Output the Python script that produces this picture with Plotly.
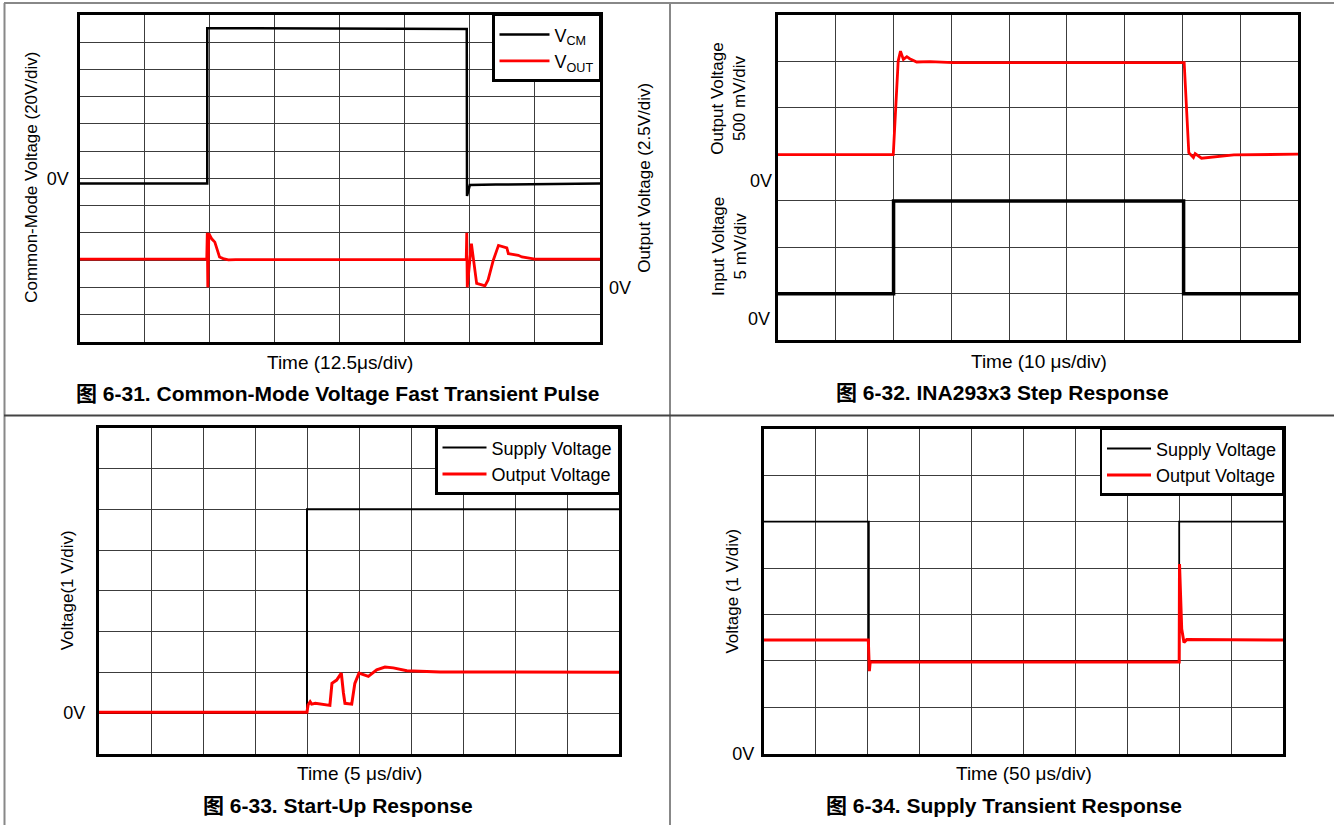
import plotly.graph_objects as go

W, H = 1334, 835

# ---------------- data ----------------
# Panel 1 : Common-mode voltage fast transient pulse (time in us)
p1_t_vcm = [0, 24.55, 24.55, 74.4, 74.45, 75.0, 80.0, 100.0]
p1_vcm = [-3.8, -3.8, 110.2, 109.6, -13.0, -4.9, -4.6, -3.8]          # V (20 V/div)
p1_t_vout = [0, 24.45, 24.55, 24.65, 24.85, 25.4, 26.0, 26.9, 27.6, 28.6, 30.0,
             74.3, 74.4, 74.5, 75.3, 76.3, 77.3, 77.9, 78.5, 79.5, 80.5, 81.4,
             82.1, 82.4, 84.3, 85.0, 86.6, 87.5, 100.0]
p1_vout = [2.58, 2.58, 5.0, 0.0, 4.95, 4.45, 4.15, 2.79, 2.64, 2.52, 2.55,
           2.55, 5.0, 0.0, 4.0, 0.37, 0.23, 0.14, 0.68, 2.49, 3.85, 3.76,
           3.63, 3.09, 2.94, 2.79, 2.70, 2.58, 2.58]                    # V (2.5 V/div)

# Panel 2 : INA293x3 step response
p2_t_out = [0, 19.95, 20.8, 21.2, 21.7, 22.3, 22.8, 24.0, 26.3, 30.3, 70.3,
            71.1, 71.9, 72.2, 73.3, 75.9, 78.9, 90.0]
p2_out = [0.28, 0.28, 1.287, 1.394, 1.305, 1.334, 1.313, 1.277, 1.281, 1.27,
          1.27, 0.30, 0.249, 0.291, 0.241, 0.26, 0.277, 0.284]          # V (500 mV/div)
p2_t_in = [0, 20.0, 20.0, 70.2, 70.2, 90.0]
p2_in = [2.7, 2.7, 12.7, 12.7, 2.7, 2.7]                               # mV (5 mV/div)

# Panel 3 : Start-up response
p3_t_sup = [0, 20.0, 20.0, 50.0]
p3_sup = [0.0, 0.0, 5.0, 5.0]
p3_t_out = [0, 20.0, 20.1, 20.3, 20.45, 20.8, 22.2, 22.4, 22.85, 23.3, 23.5,
            23.65, 24.3, 24.6, 25.0, 25.4, 25.9, 26.7, 27.5, 28.3, 29.6, 32.8, 50.0]
p3_out = [0.02, 0.02, 0.2, 0.28, 0.22, 0.24, 0.19, 0.73, 0.81, 0.98, 0.5,
          0.24, 0.22, 0.73, 0.98, 0.95, 0.9, 1.06, 1.13, 1.11, 1.04, 1.01, 1.0]

# Panel 4 : Supply transient response
p4_t_sup = [0, 101.0, 101.0, 400.0, 400.0, 500.0]
p4_sup = [5.0, 5.0, 2.0, 2.0, 5.0, 5.0]
p4_t_out = [0, 100.5, 101.5, 102.3, 400.0, 400.3, 402.4, 404.6, 407.2, 500.0]
p4_out = [2.45, 2.45, 1.78, 1.98, 1.98, 4.09, 2.69, 2.40, 2.46, 2.45]

# ---------------- layout helpers ----------------
def px(x):
    return x / W

def py(y):
    return 1 - y / H

FONT = "Liberation Sans, Arial, Noto Sans CJK SC, sans-serif"
GRID = "#3c3c3c"
RED = "#ff0000"

fig = go.Figure()

# Panel 1 traces
fig.add_trace(go.Scatter(x=p1_t_vcm, y=p1_vcm, mode="lines", name="V<sub>CM</sub>",
                         line=dict(color="black", width=2.5), xaxis="x", yaxis="y",
                         legend="legend"))
fig.add_trace(go.Scatter(x=p1_t_vout, y=p1_vout, mode="lines", name="V<sub>OUT</sub>",
                         line=dict(color=RED, width=2.8), xaxis="x", yaxis="y2",
                         legend="legend"))
# Panel 2 traces
fig.add_trace(go.Scatter(x=p2_t_in, y=p2_in, mode="lines", name="Input",
                         line=dict(color="black", width=3.5), xaxis="x2", yaxis="y3",
                         showlegend=False))
fig.add_trace(go.Scatter(x=p2_t_out, y=p2_out, mode="lines", name="Output",
                         line=dict(color=RED, width=2.8), xaxis="x2", yaxis="y4",
                         showlegend=False))
# Panel 3 traces
fig.add_trace(go.Scatter(x=p3_t_sup, y=p3_sup, mode="lines", name="Supply Voltage",
                         line=dict(color="black", width=2), xaxis="x3", yaxis="y5",
                         legend="legend2"))
fig.add_trace(go.Scatter(x=p3_t_out, y=p3_out, mode="lines", name="Output Voltage",
                         line=dict(color=RED, width=3), xaxis="x3", yaxis="y5",
                         legend="legend2"))
# Panel 4 traces
fig.add_trace(go.Scatter(x=p4_t_sup, y=p4_sup, mode="lines", name="Supply Voltage",
                         line=dict(color="black", width=1.8), xaxis="x4", yaxis="y6",
                         legend="legend3"))
fig.add_trace(go.Scatter(x=p4_t_out, y=p4_out, mode="lines", name="Output Voltage",
                         line=dict(color=RED, width=3), xaxis="x4", yaxis="y6",
                         legend="legend3"))

def xax(domain_px, rng, dtick, anchor):
    return dict(domain=[px(domain_px[0]), px(domain_px[1])], range=rng, dtick=dtick, tick0=0,
                tickmode="linear", showticklabels=False, ticks="", showgrid=True,
                gridcolor=GRID, gridwidth=1, zeroline=False, showline=True,
                linecolor="black", linewidth=3, mirror=True, anchor=anchor, fixedrange=True)

def yvals(lo, hi, step):
    vals, v = [], lo
    while v <= hi + 1e-9:
        vals.append(round(v, 6))
        v += step
    return vals

def yax(domain_px, rng, step, anchor, standoff):
    vals = yvals(rng[0], rng[1], step)
    return dict(domain=[py(domain_px[1]), py(domain_px[0])], range=rng, tickmode="array",
                tickvals=vals, ticktext=["0V" if abs(v) < 1e-9 else "" for v in vals],
                ticks="", showgrid=True, gridcolor=GRID, gridwidth=1, zeroline=False,
                showline=True, linecolor="black", linewidth=3, mirror=True, anchor=anchor,
                tickfont=dict(family=FONT, size=18, color="black"),
                ticklabelstandoff=standoff, fixedrange=True)

# panel pixel frames
P1X, P1Y = (79.5, 600), (15, 346)
P2X, P2Y = (778, 1298), (15, 344)
P3X, P3Y = (99, 619), (433, 763)
P4X, P4Y = (764, 1283), (434, 763)

# panel 2 zero offsets (in divisions from bottom) and scales
P2_DIV = 7
P2_OUT_ZERO, P2_OUT_SCALE = 3.43, 0.5
P2_IN_ZERO, P2_IN_SCALE = 0.453, 5.0

layout = dict(
    width=W, height=H, autosize=False,
    margin=dict(l=0, r=0, t=0, b=0),
    paper_bgcolor="white", plot_bgcolor="white",
    font=dict(family=FONT, color="black"),
    xaxis=xax(P1X, [0, 100], 12.5, "y"),
    yaxis=yax(P1Y, [-120, 120], 20, "x", 4),
    yaxis2=dict(overlaying="y", side="right", anchor="x", range=[-5, 25],
                tickmode="array", tickvals=[0], ticktext=["0V"], ticks="",
                showgrid=False, zeroline=False, showline=False,
                tickfont=dict(family=FONT, size=18, color="black"),
                ticklabelstandoff=8, fixedrange=True),
    xaxis2=xax(P2X, [0, 90], 10, "y3"),
    # input (mV) axis carries the grid of panel 2
    yaxis3=dict(domain=[py(P2Y[1]), py(P2Y[0])],
                range=[-P2_IN_ZERO * P2_IN_SCALE, (P2_DIV - P2_IN_ZERO) * P2_IN_SCALE],
                tickmode="linear", tick0=-P2_IN_ZERO * P2_IN_SCALE, dtick=P2_IN_SCALE,
                showticklabels=False, ticks="", showgrid=True,
                gridcolor=GRID, gridwidth=1, zeroline=False, showline=True,
                linecolor="black", linewidth=3, mirror=True, anchor="x2", fixedrange=True),
    yaxis4=dict(overlaying="y3", side="left", anchor="x2",
                range=[-P2_OUT_ZERO * P2_OUT_SCALE, (P2_DIV - P2_OUT_ZERO) * P2_OUT_SCALE],
                tickmode="array", tickvals=[0], ticktext=["0V"], ticks="",
                showgrid=False, zeroline=False, showline=False,
                tickfont=dict(family=FONT, size=18, color="black"),
                ticklabelstandoff=5, fixedrange=True),
    xaxis3=xax(P3X, [0, 50], 5, "y5"),
    yaxis5=yax(P3Y, [-1, 7], 1, "x3", 7),
    xaxis4=xax(P4X, [0, 500], 50, "y6"),
    yaxis6=yax(P4Y, [0, 7], 1, "x4", 3),
    showlegend=True,
)

def leg(xr, yt, size, iw):
    return dict(x=px(xr), y=py(yt), xanchor="right", yanchor="top", bgcolor="white",
                bordercolor="black", borderwidth=2.5,
                font=dict(family=FONT, size=size, color="black"),
                itemwidth=iw, tracegroupgap=0)

layout["legend"] = leg(601, 14, 18, 50)
layout["legend2"] = leg(620, 432, 18, 44)
layout["legend3"] = leg(1284.5, 433, 18, 44)

def ann(text, x, y, size=17, angle=0, bold=False):
    t = f"<b>{text}</b>" if bold else text
    return dict(text=t, x=px(x), y=py(y), xref="paper", yref="paper", showarrow=False,
                xanchor="center", yanchor="middle", textangle=angle,
                font=dict(family=FONT, size=size, color="black"))

annotations = [
    ann("Common-Mode Voltage (20V/div)", 32, 180, 17, -90),
    ann("Output Voltage (2.5V/div)", 645, 180, 17, -90),
    ann("Time (12.5μs/div)", 340, 367, 19),
    ann("图 6-31. Common-Mode Voltage Fast Transient Pulse", 338, 398, 21, bold=True),
    ann("Output Voltage<br>500 mV/div", 729, 100, 17, -90),
    ann("Input Voltage<br>5 mV/div", 729, 250, 17, -90),
    ann("Time (10 μs/div)", 1038.6, 366, 19),
    ann("图 6-32. INA293x3 Step Response", 1002.6, 397, 21, bold=True),
    ann("Voltage(1 V/div)", 67.5, 598, 17, -90),
    ann("Time (5 μs/div)", 359, 783, 19),
    ann("图 6-33. Start-Up Response", 337.6, 815, 21, bold=True),
    ann("Voltage (1 V/div)", 732.7, 598, 17, -90),
    ann("Time (50 μs/div)", 1024, 783, 19),
    ann("图 6-34. Supply Transient Response", 1003.7, 815, 21, bold=True),
]
# 0V label of the input-voltage scale in panel 2, placed through its axis
annotations.append(dict(text="0V", xref="x2 domain", yref="y3", x=0, y=0,
                        xanchor="right", yanchor="middle", xshift=-6, showarrow=False,
                        font=dict(family=FONT, size=18, color="black")))
layout["annotations"] = annotations

def line(x0, y0, x1, y1, color, width):
    return dict(type="line", xref="paper", yref="paper", x0=px(x0), y0=py(y0),
                x1=px(x1), y1=py(y1), line=dict(color=color, width=width), layer="above")

layout["shapes"] = [
    line(4.5, 3, 4.5, 835, "#888888", 2),
    line(4, 3, 1334, 3, "#888888", 2),
    line(670, 3, 670, 835, "#888888", 2),
    line(4, 420.5, 1334, 420.5, "#444444", 2),
]

fig.update_layout(**layout)

PAGE_JS = (
    "document.documentElement.style.margin='0px';"
    "document.documentElement.style.padding='0px';"
    "document.documentElement.style.overflow='hidden';"
    "document.documentElement.style.height='835px';"
    "document.body.style.margin='0px';"
    "document.body.style.padding='0px';"
    "document.body.style.overflow='hidden';"
    "document.body.style.height='835px';"
)
fig.write_html("out.html", config={"displayModeBar": False}, post_script=PAGE_JS)
